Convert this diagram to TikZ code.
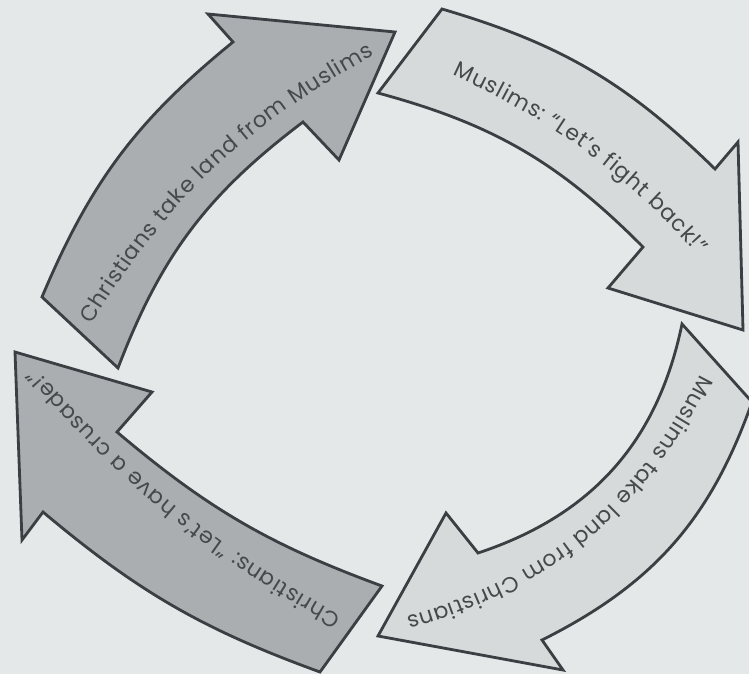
\documentclass[tikz,border=0pt]{standalone}
\usepackage{fontspec}
\newfontfamily\arrowfont{Poppins}
\newcommand\arrowlabelfont{\arrowfont\fontsize{12.5}{15}\selectfont}
\usetikzlibrary{decorations.text}
\definecolor{paper}{HTML}{E5E8E9}
\definecolor{darkarrow}{HTML}{ABAEB0}
\definecolor{lightarrow}{HTML}{D6DADB}
\definecolor{edge}{HTML}{3B3E42}
\definecolor{ink}{HTML}{46494C}

\begin{document}
\begin{tikzpicture}[x=0.02cm,y=0.02cm,
	darkbox/.style={fill=darkarrow,draw=edge,line width=1.6pt},
	lightbox/.style={fill=lightarrow,draw=edge,line width=1.6pt},
	arrowtext/.style={font=\arrowlabelfont,decorate,decoration={text effects along path,text={#1},
		text align=center,raise=-4pt,
		text effects/.cd,text along path,
		character widths={font=\arrowlabelfont,inner xsep=0.25pt},
		characters={text=ink,font=\arrowlabelfont,inner sep=0pt}}}]
\fill[paper] (0,0) rectangle (749,674);
\useasboundingbox (0,0) rectangle (749,674);

% top left
\coordinate (A1) at (42,377);
\coordinate (A2) at (118,306);
\coordinate (A3) at (303,552);
\coordinate (A4) at (339,514);
\coordinate (A5) at (395,642);
\coordinate (A6) at (208,660);
\coordinate (A7) at (233,632);
% top right
\coordinate (B1) at (442,665);
\coordinate (B2) at (378,581);
\coordinate (B3) at (643,427);
\coordinate (B4) at (608,386);
\coordinate (B5) at (743,344);
\coordinate (B6) at (738,532);
\coordinate (B7) at (715,505);
% bottom right
\coordinate (C1) at (752,272);
\coordinate (C2) at (682,350);
\coordinate (C3) at (478,121);
\coordinate (C4) at (446,161);
\coordinate (C5) at (378,38);
\coordinate (C6) at (563,4);
\coordinate (C7) at (542,34);
% bottom left
\coordinate (D1) at (320,2);
\coordinate (D2) at (382,88);
\coordinate (D3) at (117,242);
\coordinate (D4) at (152,282);
\coordinate (D5) at (15,322);
\coordinate (D6) at (22,134);
\coordinate (D7) at (43,162);

\filldraw[darkbox] (A1) -- (A2) to[bend left=16] (A3) -- (A4) -- (A5) -- (A6) -- (A7) to[bend right=14] (A1) -- cycle;
\filldraw[lightbox] (B1) -- (B2) to[bend left=15] (B3) -- (B4) -- (B5) -- (B6) -- (B7) to[bend right=14] (B1) -- cycle;
\filldraw[lightbox] (C1) -- (C2) to[bend left=30] (C3) -- (C4) -- (C5) -- (C6) -- (C7) to[bend right=22] (C1) -- cycle;
\filldraw[darkbox] (D1) -- (D2) to[bend left=10] (D3) -- (D4) -- (D5) -- (D6) -- (D7) to[bend right=10] (D1) -- cycle;

% labels
\coordinate (TA1) at (80,344);
\coordinate (TA2) at (380,630);
\coordinate (TB1) at (408,626);
\coordinate (TB2) at (737,384);
\coordinate (TC1) at (714,312);
\coordinate (TC2) at (392,46);
\coordinate (TD1) at (350,45);
\coordinate (TD2) at (22,312);
\path[arrowtext={Christians take land from Muslims}] (TA1) to[bend left=15] (TA2);
\path[arrowtext={Muslims: “Let’s fight back!”}] (TB1) to[bend left=14] (TB2);
\path[arrowtext={Muslims take land from Christians}] (TC1) to[bend left=25] (TC2);
\path[arrowtext={Christians: “Let’s have a crusade!”}] (TD1) to[bend left=10] (TD2);
\end{tikzpicture}
\end{document}
